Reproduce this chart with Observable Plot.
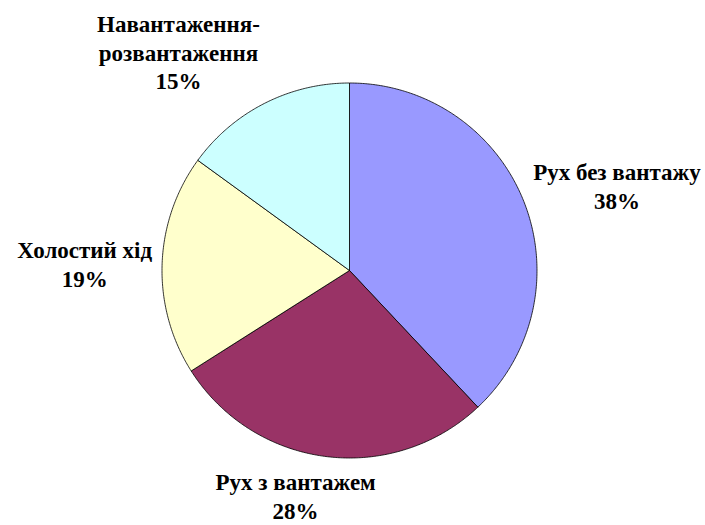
<!DOCTYPE html>
<html>
<head>
<meta charset="utf-8">
<script src="https://cdn.jsdelivr.net/npm/d3@7"></script>
<script src="https://cdn.jsdelivr.net/npm/@observablehq/plot@0.6"></script>
<style>
  html, body { margin: 0; padding: 0; background: #fff; }
</style>
</head>
<body>
<div id="chart"></div>
<script>
// ---- data ----
const categories = ["Рух без вантажу", "Рух з вантажем", "Холостий хід", "Навантаження-розвантаження"];
const shares = [38, 28, 19, 15];
const colors = ["#9999FF", "#993366", "#FFFFCC", "#CCFFFF"];

// ---- layout / style ----
const W = 705, H = 525;
const CX = 349, CY = 270, R = 187.5;   // pie centre and radius (px)
const FONT = "Liberation Serif";
const FS = 23, LH = 1.25;
const GAP = 10;                          // label gap from pie edge (px)

const total = d3.sum(shares);
let acc = 0;
const slices = categories.map((c, i) => {
  const a0 = acc / total * 2 * Math.PI;
  acc += shares[i];
  const a1 = acc / total * 2 * Math.PI;
  return {category: c, value: shares[i], color: colors[i], a0, a1, mid: (a0 + a1) / 2};
});

// polygon outline of each slice, in unit-circle data coordinates (y up, clockwise from top)
function slicePoints(s) {
  const n = Math.max(2, Math.ceil((s.a1 - s.a0) / (Math.PI / 360)));
  const pts = [{x: 0, y: 0}];
  for (let k = 0; k <= n; k++) {
    const a = s.a0 + (s.a1 - s.a0) * k / n;
    pts.push({x: Math.sin(a), y: Math.cos(a)});
  }
  pts.push({x: 0, y: 0});
  return pts;
}

// text measurement for label placement
const ctx = document.createElement("canvas").getContext("2d");
ctx.font = `bold ${FS}px "${FONT}"`;
const clamp = (v) => Math.max(-1, Math.min(1, v));

function labelText(s) {
  const pct = Math.round(s.value / total * 100) + "%";
  return s.category.replace("-", "-\n") + "\n" + pct;
}

const marks = [];
slices.forEach(s => {
  marks.push(Plot.line(slicePoints(s), {
    x: "x", y: "y", fill: s.color, stroke: "#000", strokeWidth: 0.8, curve: "linear"
  }));
});

slices.forEach(s => {
  const txt = labelText(s);
  const lines = txt.split("\n");
  const w = d3.max(lines, l => ctx.measureText(l).width);
  const h = lines.length * FS * LH;
  const k = 1 + GAP / R;
  const fx = clamp(Math.sin(s.mid) * 2.9);
  const fy = -clamp(Math.cos(s.mid) * 1.2);
  marks.push(Plot.text([s], {
    x: d => Math.sin(d.mid) * k,
    y: d => Math.cos(d.mid) * k,
    text: () => txt,
    dx: fx * w / 2,
    dy: fy * h / 2,
    textAnchor: "middle",
    lineAnchor: "middle",
    lineHeight: LH,
    fontSize: FS,
    fontWeight: "bold",
    fontFamily: FONT,
    fill: "#000"
  }));
});

const chart = Plot.plot({
  width: W,
  height: H,
  margin: 0,
  x: {domain: [-1, 1], range: [CX - R, CX + R], axis: null},
  y: {domain: [-1, 1], range: [CY + R, CY - R], axis: null},
  style: {background: "#fff"},
  marks
});
document.getElementById("chart").appendChild(chart);
</script>
</body>
</html>
